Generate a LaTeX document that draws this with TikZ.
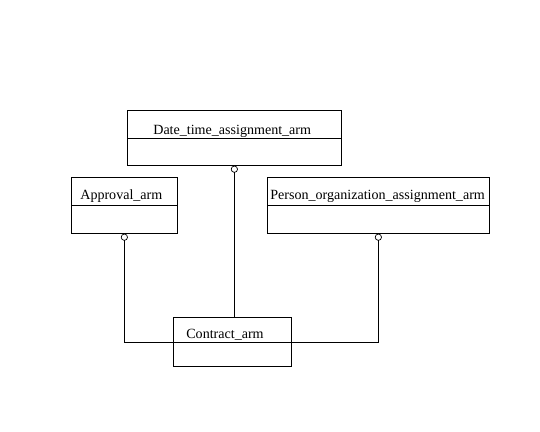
\documentclass[tikz,border=0pt]{standalone}
\usepackage{fontspec}
\setmainfont{Liberation Serif}
\usetikzlibrary{arrows.meta}

\tikzset{
  classbox/.style={draw,rectangle,inner sep=0pt,anchor=north west},
  classname/.style={anchor=base west,inner sep=0pt,font=\fontsize{12pt}{14pt}\selectfont},
  optional/.style={{Circle[open,length=6pt,width=6pt]}-}
}

\begin{document}
\begin{tikzpicture}[x=0.03cm,y=-0.03cm,line width=0.6pt]
\useasboundingbox (0,0) rectangle (540,432);
% classes
\node[classbox,minimum width=6.42cm,minimum height=1.65cm](date)at(127,110){};
\node[classbox,minimum width=3.18cm,minimum height=1.68cm](approval)at(71,177){};
\node[classbox,minimum width=6.66cm,minimum height=1.68cm](person)at(267,177){};
\node[classbox,minimum width=3.54cm,minimum height=1.47cm](contract)at(173,317){};
\draw(date.north west)++(0,28)coordinate(dsep)--(dsep-|date.east);
\draw(approval.north west)++(0,28)coordinate(asep)--(asep-|approval.east);
\draw(person.north west)++(0,28)coordinate(psep)--(psep-|person.east);
\draw(contract.west)--(contract.east);
\node[classname]at(153,134.5){Date\_time\_assignment\_arm};
\node[classname]at(80,199.5){Approval\_arm};
\node[classname]at(270,199.5){Person\_organization\_assignment\_arm};
\node[classname]at(186,338.5){Contract\_arm};
% relations
\draw[optional](date.south)--(date.south|-contract.north);
\draw[optional](approval.south)|-(contract.west);
\draw[optional](person.south)|-(contract.east);
\end{tikzpicture}
\end{document}
